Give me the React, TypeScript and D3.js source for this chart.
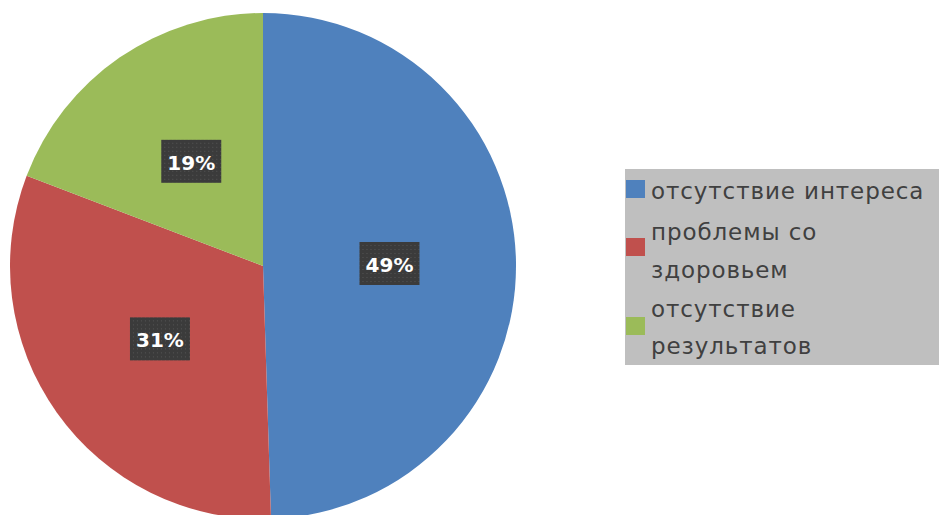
import React from "react";
import * as d3 from "d3";

const categories = ["отсутствие интереса", "проблемы со здоровьем", "отсутствие результатов"];
const values = [49, 31, 19];
const labels = ["49%", "31%", "19%"];
const legendLines = [["отсутствие интереса"], ["проблемы со", "здоровьем"], ["отсутствие", "результатов"]];
const colors = ["#4F81BD", "#C0504D", "#9BBB59"];

const W = 939;
const H = 515;

export default function App() {
  const cx = 263;
  const cy = 266;
  const R = 253;
  const pie = d3.pie<number>().sort(null).value((d) => d)(values);
  const arc = d3.arc<d3.PieArcDatum<number>>().innerRadius(0).outerRadius(R);
  const labelArc = d3.arc<d3.PieArcDatum<number>>().innerRadius(R * 0.5).outerRadius(R * 0.5);

  const legendX = 625;
  const legendY = 169;
  const lineBase = [[199], [240, 278], [317, 354]];
  const swatchY = [180, 238, 317];

  return (
    <svg width={W} height={H} style={{ position: "absolute", left: 0, top: 0 }}>
      <defs>
        <pattern id="dots" width="4" height="4" patternUnits="userSpaceOnUse">
          <rect width="4" height="4" fill="#3b3b3b" />
          <rect x="1" y="1" width="1" height="1" fill="#555555" />
        </pattern>
      </defs>
      <rect width={W} height={H} fill="#ffffff" />
      <g transform={`translate(${cx},${cy})`}>
        {pie.map((p, i) => (
          <path key={categories[i]} d={arc(p) || ""} fill={colors[i]} />
        ))}
        {pie.map((p, i) => {
          const [lx, ly] = labelArc.centroid(p);
          return (
            <g key={"l" + i} transform={`translate(${lx},${ly})`}>
              <rect x={-30} y={-22} width={60} height={43} fill="url(#dots)" />
              <text
                x={0}
                y={8}
                textAnchor="middle"
                fill="#ffffff"
                fontFamily="'DejaVu Sans', sans-serif"
                fontWeight="bold"
                fontSize={20}
              >
                {labels[i]}
              </text>
            </g>
          );
        })}
      </g>
      <rect x={legendX} y={legendY} width={W - legendX + 5} height={196} fill="#bfbfbf" />
      {categories.map((c, i) => (
        <g key={"lg" + i}>
          <rect x={626} y={swatchY[i]} width={19} height={18} fill={colors[i]} />
          {legendLines[i].map((t, j) => (
            <text
              key={j}
              x={651}
              y={lineBase[i][j]}
              fill="#404040"
              fontFamily="'DejaVu Sans', sans-serif"
              fontSize={23}
              letterSpacing={0.9}
            >
              {t}
            </text>
          ))}
        </g>
      ))}
    </svg>
  );
}
